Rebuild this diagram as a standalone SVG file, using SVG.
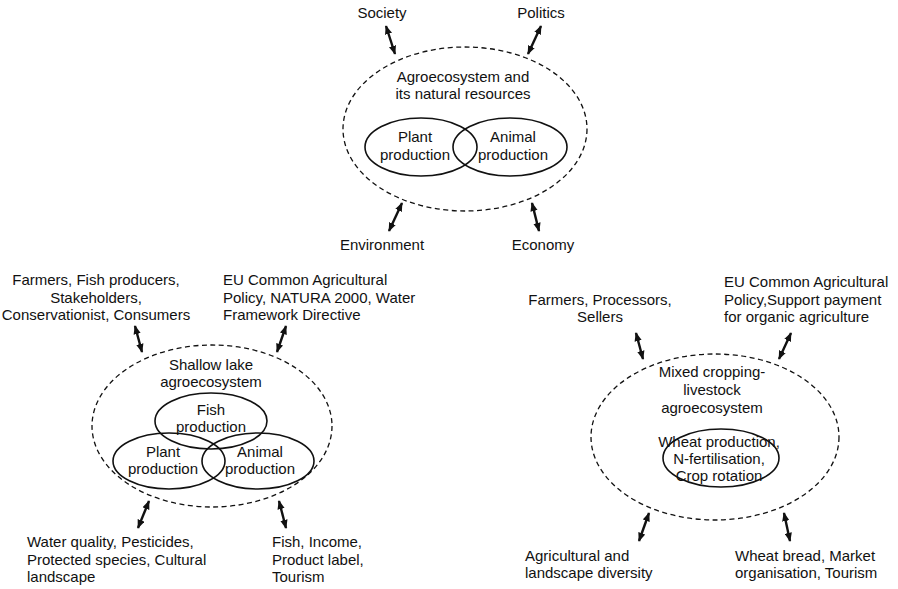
<svg xmlns="http://www.w3.org/2000/svg" width="898" height="589" viewBox="0 0 898 589">
<style>
text{font-family:"Liberation Sans",Arial,sans-serif;font-size:15px;fill:#111}
.c{text-anchor:middle}
.dash{fill:none;stroke:#111;stroke-width:1.3;stroke-dasharray:5,3.5}
.sol{fill:none;stroke:#111;stroke-width:1.6}
.arr{stroke:#111;stroke-width:2.4;marker-start:url(#ah);marker-end:url(#ah)}
</style>
<defs>
<marker id="ah" viewBox="0 0 10 8" refX="9" refY="4" markerWidth="3.8" markerHeight="3.2" orient="auto-start-reverse">
<path d="M0,0 L10,4 L0,8 z" fill="#111"/>
</marker>
</defs>
<rect width="898" height="589" fill="#fff"/>
<g id="top">
<ellipse class="dash" cx="465" cy="129" rx="122" ry="82"/>
<text class="c" x="463" y="82">Agroecosystem and</text>
<text class="c" x="463" y="99">its natural resources</text>
</g>
<g id="top-plant">
<ellipse class="sol" cx="421" cy="147" rx="56" ry="29"/>
<text class="c" x="415" y="142">Plant</text>
<text class="c" x="415" y="160">production</text>
</g>
<g id="top-animal">
<ellipse class="sol" cx="510" cy="147" rx="57" ry="29"/>
<text class="c" x="513" y="142">Animal</text>
<text class="c" x="513" y="160">production</text>
</g>
<g id="society"><text class="c" x="382" y="18">Society</text></g>
<g id="politics"><text class="c" x="541" y="18">Politics</text></g>
<g id="environment"><text class="c" x="382" y="250">Environment</text></g>
<g id="economy"><text class="c" x="543" y="250">Economy</text></g>

<g id="lake">
<ellipse class="dash" cx="212" cy="426" rx="120" ry="81"/>
<text class="c" x="211" y="370">Shallow lake</text>
<text class="c" x="211" y="387">agroecosystem</text>
</g>
<g id="lake-fish">
<ellipse class="sol" cx="211" cy="421" rx="56" ry="28"/>
<text class="c" x="211" y="415">Fish</text>
<text class="c" x="211" y="432">production</text>
</g>
<g id="lake-plant">
<ellipse class="sol" cx="169" cy="461" rx="56" ry="28"/>
<text class="c" x="163" y="457">Plant</text>
<text class="c" x="163" y="474">production</text>
</g>
<g id="lake-animal">
<ellipse class="sol" cx="258" cy="461" rx="56" ry="28"/>
<text class="c" x="260" y="457">Animal</text>
<text class="c" x="260" y="474">production</text>
</g>
<g id="lake-actors">
<text class="c" x="96" y="285">Farmers, Fish producers,</text>
<text class="c" x="96" y="303">Stakeholders,</text>
<text class="c" x="96" y="320">Conservationist, Consumers</text>
</g>
<g id="lake-policy">
<text x="223" y="285">EU Common Agricultural</text>
<text x="223" y="303">Policy, NATURA 2000, Water</text>
<text x="223" y="320">Framework Directive</text>
</g>
<g id="lake-env">
<text x="27" y="547">Water quality, Pesticides,</text>
<text x="27" y="565">Protected species, Cultural</text>
<text x="27" y="582">landscape</text>
</g>
<g id="lake-econ">
<text x="272" y="547">Fish, Income,</text>
<text x="272" y="565">Product label,</text>
<text x="272" y="582">Tourism</text>
</g>

<g id="mixed">
<ellipse class="dash" cx="715" cy="437" rx="124" ry="83"/>
<text class="c" x="712" y="377">Mixed cropping-</text>
<text class="c" x="712" y="395">livestock</text>
<text class="c" x="712" y="413">agroecosystem</text>
</g>
<g id="mixed-wheat">
<ellipse class="sol" cx="721" cy="458" rx="58" ry="29"/>
<text class="c" x="719" y="447">Wheat production,</text>
<text class="c" x="719" y="464">N-fertilisation,</text>
<text class="c" x="719" y="481">Crop rotation</text>
</g>
<g id="mixed-actors">
<text class="c" x="600" y="305">Farmers, Processors,</text>
<text class="c" x="600" y="322">Sellers</text>
</g>
<g id="mixed-policy">
<text x="724" y="287">EU Common Agricultural</text>
<text x="724" y="305">Policy,Support payment</text>
<text x="724" y="322">for organic agriculture</text>
</g>
<g id="mixed-env">
<text x="525" y="561">Agricultural and</text>
<text x="525" y="578">landscape diversity</text>
</g>
<g id="mixed-econ">
<text x="735" y="561">Wheat bread, Market</text>
<text x="735" y="578">organisation, Tourism</text>
</g>

<g id="connectors">
<line class="arr" x1="386" y1="26" x2="395" y2="54"/>
<line class="arr" x1="541" y1="26" x2="528" y2="54"/>
<line class="arr" x1="402" y1="203" x2="389" y2="231"/>
<line class="arr" x1="532" y1="203" x2="539" y2="231"/>
<line class="arr" x1="135" y1="326" x2="142" y2="352"/>
<line class="arr" x1="286" y1="326" x2="277" y2="352"/>
<line class="arr" x1="149" y1="501" x2="138" y2="528"/>
<line class="arr" x1="279" y1="501" x2="286" y2="528"/>
<line class="arr" x1="636" y1="333" x2="643" y2="359"/>
<line class="arr" x1="791" y1="333" x2="779" y2="359"/>
<line class="arr" x1="649" y1="513" x2="639" y2="541"/>
<line class="arr" x1="784" y1="513" x2="790" y2="541"/>
</g>
</svg>
